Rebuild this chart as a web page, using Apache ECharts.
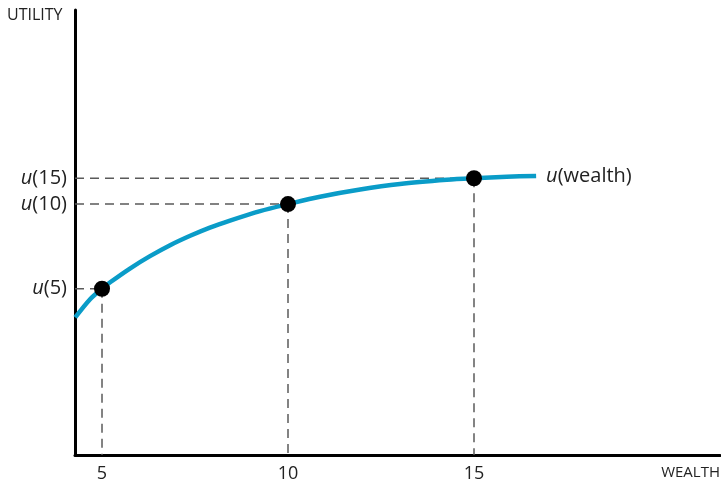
<!DOCTYPE html>
<html>
<head>
<meta charset="utf-8">
<script src="https://cdn.jsdelivr.net/npm/echarts@6/dist/echarts.min.js"></script>
<style>html,body{margin:0;padding:0;background:#fff}#c{width:721px;height:483px}</style>
</head>
<body>
<div id="c"></div>
<script>
// Curve samples (wealth, utility)
const curveWealth = [4.28, 4.68, 5, 5.22, 5.75, 6.29, 6.83, 7.37, 7.9, 8.44, 9.25, 10, 10.86, 11.94, 13.01, 14.27, 15, 15.88, 16.67];
const curveUtility = [30.9, 35.0, 37.36, 38.81, 41.9, 44.68, 47.14, 49.26, 51.1, 52.68, 54.81, 56.38, 58.05, 59.66, 60.89, 61.83, 62.19, 62.53, 62.71];
// Marked points
const pointWealth = [5, 10, 15];
const pointUtility = [37.36, 56.38, 62.19];
const pointLabels = ['5', '10', '15'];
const xMin = 4.274, xMax = 21.613;

const chart = echarts.init(document.getElementById('c'));
const font = 'Open Sans';
const guideStyle = {color: '#5a5a5a', width: 1.5, type: [9, 6]};
const guides = [];
pointWealth.forEach((w, i) => {
  guides.push({type: 'line', silent: true, symbol: 'none', lineStyle: guideStyle, z: 1,
    data: [[xMin, pointUtility[i]], [w, pointUtility[i]]]});
  guides.push({type: 'line', silent: true, symbol: 'none', lineStyle: guideStyle, z: 1,
    data: [[w, pointUtility[i]], [w, 0]]});
});
const richU = {i: {fontStyle: 'italic', fontFamily: font, fontSize: 20, color: '#222'}, n: {fontFamily: font, fontSize: 20, color: '#222'}};

chart.setOption({
  animation: false,
  grid: {left: 75, right: 1, top: 10, bottom: 26, containLabel: false},
  xAxis: {
    type: 'value', min: xMin, max: xMax,
    axisLine: {show: true, onZero: false, lineStyle: {color: '#000', width: 3}},
    axisTick: {show: false}, splitLine: {show: false},
    axisLabel: {customValues: pointWealth, formatter: v => pointLabels[pointWealth.indexOf(v)] || '',
      fontFamily: font, fontSize: 18, color: '#222', margin: 10}
  },
  yAxis: {
    type: 'value', min: 0, max: 100,
    axisLine: {show: true, onZero: false, lineStyle: {color: '#000', width: 3}},
    axisTick: {show: false}, splitLine: {show: false},
    axisLabel: {customValues: pointUtility,
      formatter: v => '{i|u}{n|(' + pointLabels[pointUtility.indexOf(v)] + ')}',
      rich: richU, margin: 8}
  },
  graphic: [
    {type: 'text', left: 7, top: 7, style: {text: 'UTILITY', font: '16px "Open Sans"', fill: '#222'}},
    {type: 'text', right: 1, top: 465, style: {text: 'WEALTH', font: '15px "Open Sans"', fill: '#222'}}
  ],
  series: guides.concat([
    {type: 'line', smooth: 0.3, symbol: 'none', z: 3,
      data: curveWealth.map((w, i) => [w, curveUtility[i]]),
      lineStyle: {color: '#0a9cc8', width: 4.5},
      endLabel: {show: true, distance: 10, formatter: '{i|u}{n|(wealth)}', rich: richU}},
    {type: 'scatter', symbolSize: 16, z: 4, itemStyle: {color: '#000', opacity: 1},
      data: pointWealth.map((w, i) => [w, pointUtility[i]])}
  ])
});
</script>
</body>
</html>
